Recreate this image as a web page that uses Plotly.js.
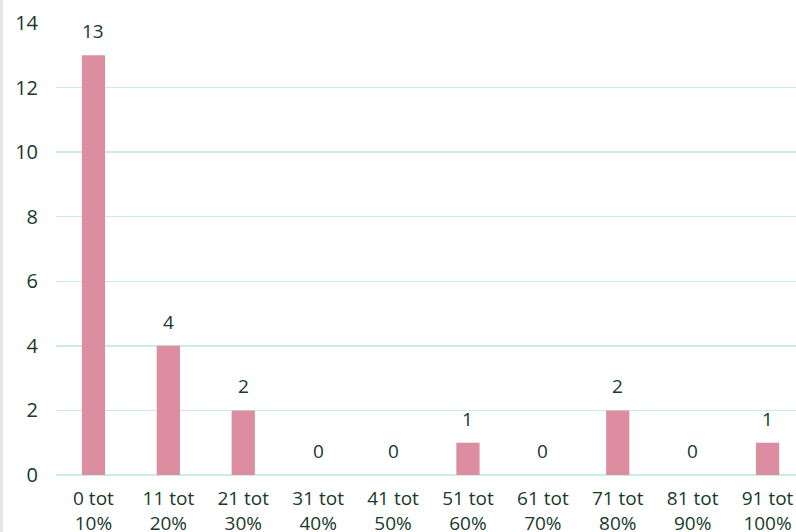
<!DOCTYPE html>
<html><head><meta charset="utf-8">
<script src="https://cdn.plot.ly/plotly-3.0.1.min.js"></script>
<style>html,body{margin:0;padding:0;overflow:hidden;background:#fff;width:796px;height:532px}
#band{position:absolute;left:0;top:0;width:3px;height:532px;background:#e6e7e2;z-index:5}
</style></head>
<body><div id="band"></div><div id="chart"></div>
<script>
const categories = ["0 tot<br>10%","11 tot<br>20%","21 tot<br>30%","31 tot<br>40%","41 tot<br>50%","51 tot<br>60%","61 tot<br>70%","71 tot<br>80%","81 tot<br>90%","91 tot<br>100%"];
const counts = [13,4,2,0,0,1,0,2,0,1];
const yTicks = [0,2,4,6,8,10,12,14];

const textColor = "#173a2a";
const fontFam = "'Open Sans', 'Noto Sans', sans-serif";

const annotations = categories.map((c,i)=>({
  x:c, y:counts[i], xref:'x', yref:'y', text:String(counts[i]),
  showarrow:false, yanchor:'bottom', yshift:9,
  font:{family:fontFam,size:19,color:textColor}
}));

Plotly.newPlot('chart',[{
  type:'bar', x:categories, y:counts,
  marker:{color:'#dc8d9f'}, width:0.31, hoverinfo:'none'
}],{
  width:806, height:532,
  margin:{l:56,r:1,t:23,b:57},
  paper_bgcolor:'#fff', plot_bgcolor:'#fff',
  showlegend:false,
  font:{family:fontFam,size:19,color:textColor},
  xaxis:{type:'category', range:[-0.5,9.5], showgrid:false, zeroline:false, showline:false,
    ticks:'', ticklabelstandoff:10, tickfont:{family:fontFam,size:19,color:textColor}},
  yaxis:{range:[0,14], tickvals:yTicks, showgrid:true, gridcolor:'#c9efdc', gridwidth:1.5,
    zeroline:true, zerolinecolor:'#c9efdc', zerolinewidth:1.5, showline:false,
    ticks:'', ticklabelstandoff:17, tickfont:{family:fontFam,size:20,color:textColor}},
  annotations:annotations
},{displayModeBar:false, staticPlot:true});
</script></body></html>
